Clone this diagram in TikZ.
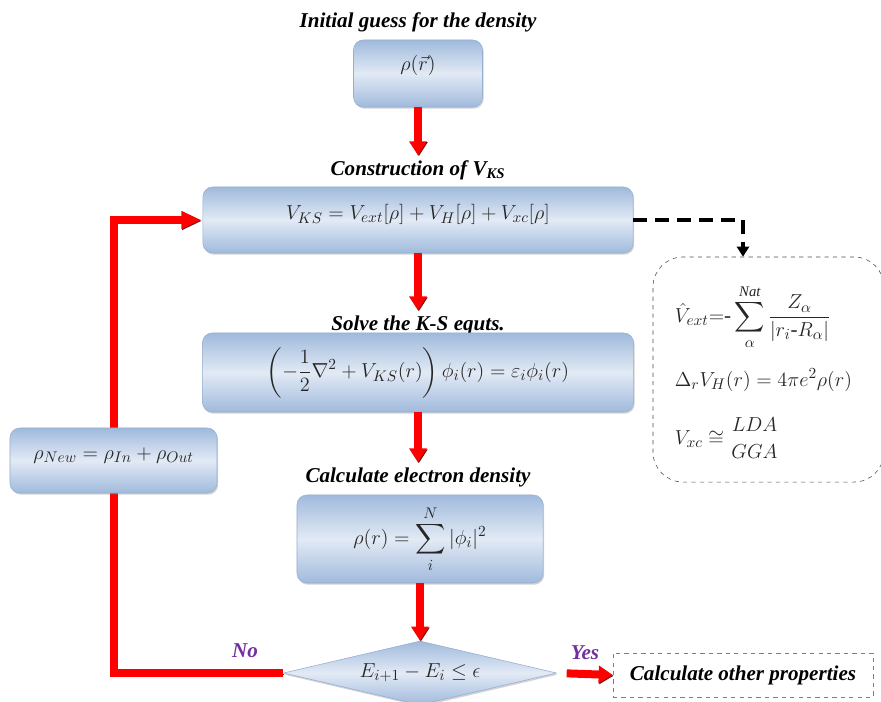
\documentclass[tikz,border=0pt]{standalone}
\usepackage{amsmath}
\usepackage{amssymb}
\usepackage{fontspec}
\setmainfont{Liberation Serif}
\usetikzlibrary{shapes.geometric,arrows.meta,shadows}

\definecolor{boxdark}{RGB}{160,186,220}
\definecolor{boxlight}{RGB}{226,234,245}
\definecolor{boxedge}{RGB}{150,175,208}
\definecolor{flowred}{RGB}{255,0,0}
\definecolor{flowshadow}{RGB}{110,20,20}
\definecolor{answer}{RGB}{112,48,160}
\definecolor{otheredge}{RGB}{91,130,195}

\tikzset{
  stepbox/.style={draw=boxedge, rounded corners=7pt, top color=boxdark,
    bottom color=boxdark, middle color=boxlight,
    drop shadow={shadow xshift=0.8pt, shadow yshift=-1.2pt, opacity=0.35},
    text=black!85, font=\fontsize{15}{18}\selectfont},
  steplabel/.style={font=\fontsize{15}{18}\selectfont\bfseries\itshape},
  potform/.style={anchor=west, text=black!85, font=\fontsize{15}{18}\selectfont},
  flow/.style={draw=flowred, line width=2mm,
    -{Triangle[length=3.5mm,width=4.2mm]},
    preaction={draw=flowshadow, transform canvas={xshift=0.6pt,yshift=-0.6pt}}},
}

\begin{document}
\begin{tikzpicture}[x=0.025cm,y=-0.025cm]
    \useasboundingbox (0,0) rectangle (881,702);

    % Labels of the steps
    \node[steplabel] (t1) at (418,22) {Initial guess for the density};
    \node[steplabel] (t2) at (418,170) {Construction of V\textsubscript{KS}};
    \node[steplabel] (t3) at (418,325) {Solve the K-S equts.};
    \node[steplabel] (t4) at (418,477) {Calculate electron density};

    % Boxes of the cycle
    \node[stepbox, minimum width=3.225cm, minimum height=1.675cm, text depth=0.55cm]
      (init) at (418,73.5) {$\rho(\vec{r})$};
    \node[stepbox, minimum width=10.75cm, minimum height=1.65cm, text depth=0.4cm]
      (vks) at (418,220) {$V_{KS}=V_{ext}[\rho]+V_{H}[\rho]+V_{xc}[\rho]$};
    \node[stepbox, minimum width=10.775cm, minimum height=1.975cm]
      (ks) at (418,372.5)
      {$\displaystyle\left(-\frac{1}{2}\nabla^2+V_{KS}(r)\right)\phi_i(r)=\varepsilon_i\phi_i(r)$};
    \node[stepbox, minimum width=6.15cm, minimum height=2.2cm]
      (dens) at (420,539) {$\displaystyle\rho(r)=\sum_{i}^{N}|\phi_i|^2$};
    \node[stepbox, diamond, aspect=4.3, rounded corners=0pt, inner sep=0pt,
      minimum width=6.825cm, minimum height=1.6cm] (conv) at (420,673) {$E_{i+1}-E_i\le\epsilon$};

    % Answers
    \node[steplabel, text=answer] (no) at (245,651) {No};
    \node[steplabel, text=answer] (yes) at (585,653) {Yes};
    \node[steplabel, draw=otheredge, dashed, thin, minimum width=6.5cm, minimum height=1.1cm]
      (other) at (743,675) {Calculate other properties};

    % Potentials
    \node[draw=black!70, dashed, thin, rounded corners=0.75cm, minimum width=5.775cm,
      minimum height=5.625cm] (pot) at (768.5,369.5) {};
    \node[potform] (vext) at (670,317)
      {$\displaystyle\hat{V}_{ext}{=}\text{-}\sum_{\alpha}^{\mathit{Nat}}\frac{Z_\alpha}{|r_i\text{-}R_\alpha|}$};
    \node[potform] (vh) at (670,380) {$\Delta_r V_H(r)=4\pi e^2\rho(r)$};
    \node[potform] (vxc) at (670,438) {$V_{xc}\cong\genfrac{}{}{0pt}{0}{LDA}{GGA}$};

    % Arrows
    \draw[flow] (init.south) -- (t2.north);
    \draw[flow] (vks.south) -- (t3.north);
    \draw[flow] (ks.south) -- (t4.north);
    \draw[flow] (dens.south) -- (conv.north);
    \draw[flow, shorten <=7pt] (conv.east) -- (other.west);
    \draw[black, line width=1.2mm, dash pattern=on 3.5mm off 2mm, -{Triangle[length=2.5mm,width=3mm]}]
      (vks.east) -- (743,220) coordinate (dc) -- (dc |- pot.north);

    % Loop back
    \coordinate (lb) at (114,673);
    \coordinate (lt) at (114,220);
    \draw[flow, -{Triangle[length=5mm,width=4.2mm]}, shorten >=1pt]
      (conv.west) -- (lb) -- (lt) -- (vks.west);
    \node[stepbox, minimum width=5.175cm, minimum height=1.625cm, text depth=0.35cm]
      (new) at (113.5,460.5) {$\rho_{New}=\rho_{In}+\rho_{Out}$};
\end{tikzpicture}
\end{document}
